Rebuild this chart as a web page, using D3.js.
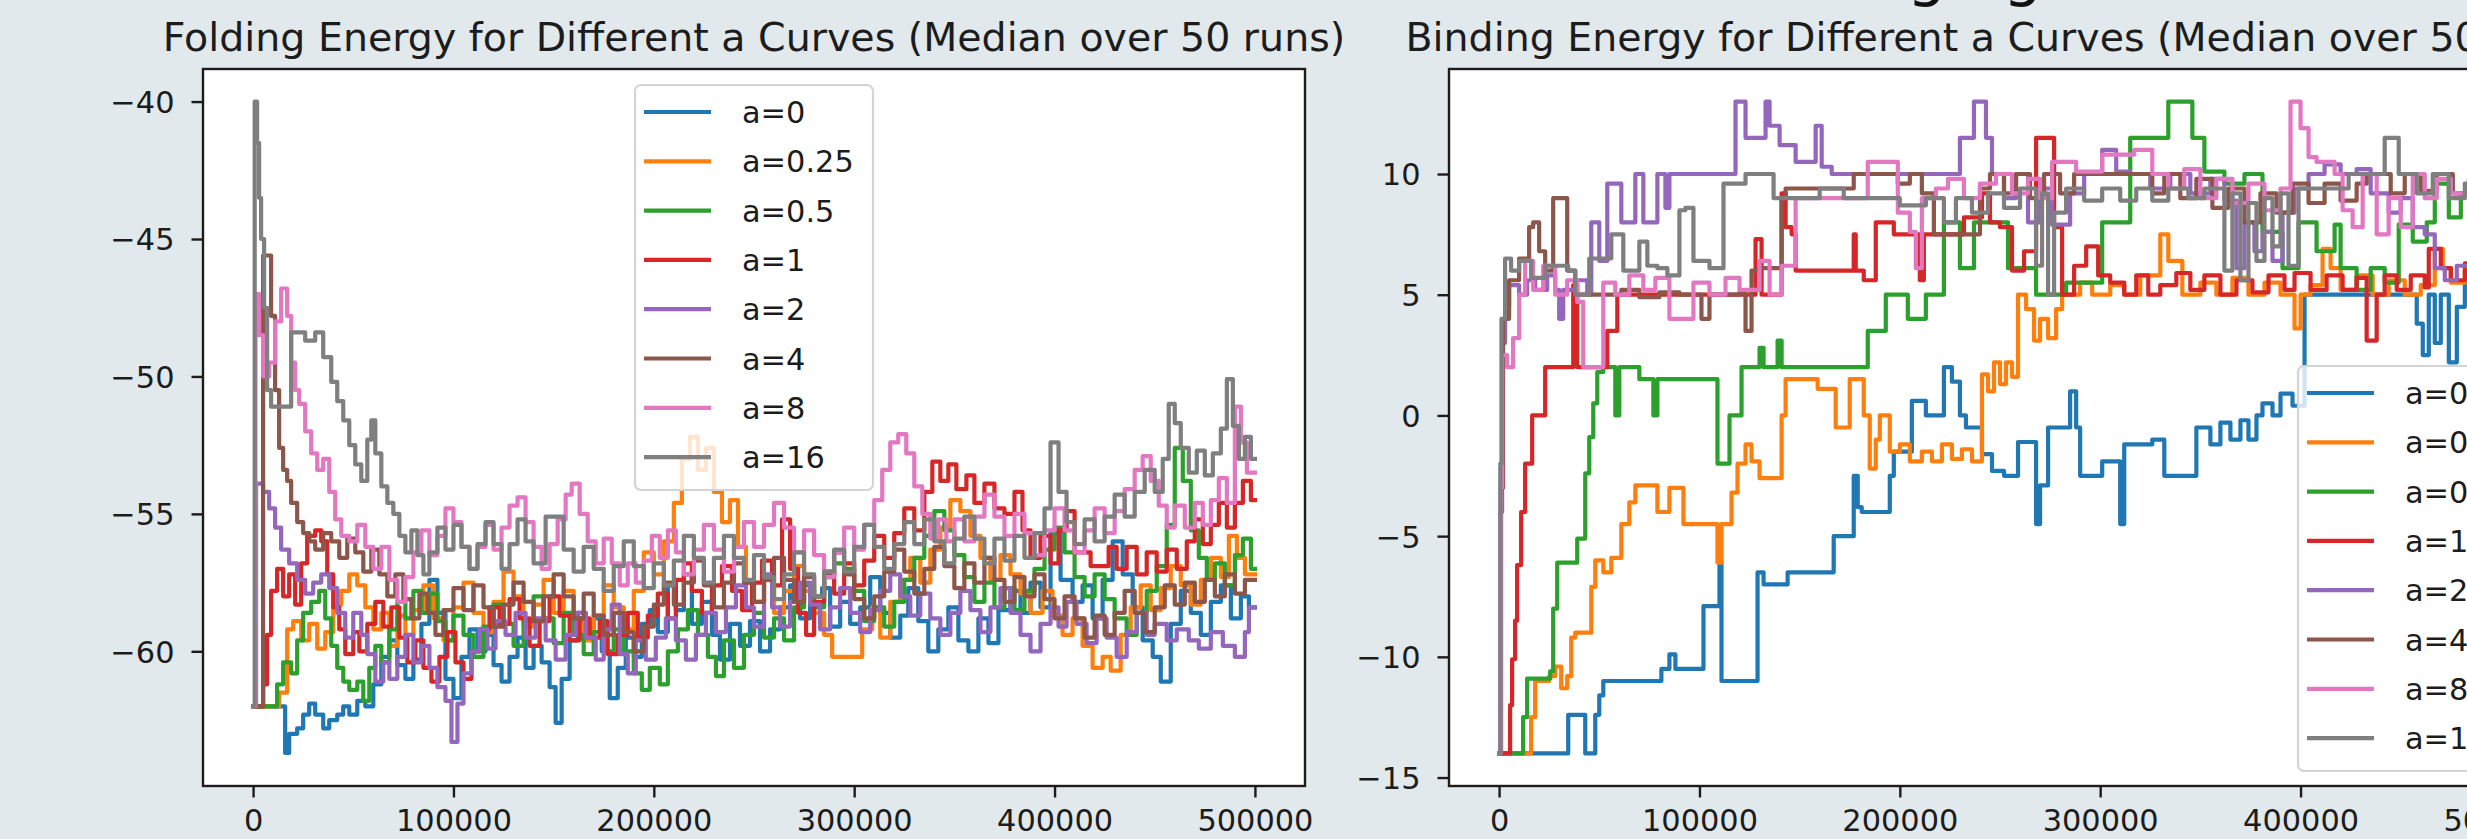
<!DOCTYPE html>
<html><head><meta charset="utf-8">
<script src="https://cdn.jsdelivr.net/npm/d3@7"></script>
<style>
html,body{margin:0;padding:0;background:#e1e9ed;overflow:hidden;}
svg{display:block;}
</style></head><body>
<svg id="c" width="2467" height="839"></svg>
<script>
// ---------------- DATA ----------------
const seriesLabels = ["a=0","a=0.25","a=0.5","a=1","a=2","a=4","a=8","a=16"];
const seriesColors = ["#1f77b4","#ff7f0e","#2ca02c","#d62728","#9467bd","#8c564b","#e377c2","#7f7f7f"];
const xTicks = [0,100000,200000,300000,400000,500000];
const foldYTicks = [-60,-55,-50,-45,-40];
const bindYTicks = [-15,-10,-5,0,5,10];
const foldTitle = "Folding Energy for Different a Curves (Median over 50 runs)";
const bindTitle = "Binding Energy for Different a Curves (Median over 50 runs)";
const slideHeading = "ging";
// x values are in thousands of steps, y values are energies

const fold_a0 = [[0,-62],[16,-63.7],[18,-63.0],[22,-62.8],[25,-62.3],[28,-61.9],[31,-62.3],[35,-62.8],[38,-62.5],[42,-62.3],[45,-62.0],[48,-62.3],[52,-61.8],[56,-62.0],[60,-61.2],[64,-60.2],[68,-59.6],[72,-60.5],[76,-61.0],[80,-60.3],[84,-59.0],[88,-57.4],[92,-58.6],[96,-61.0],[100,-61.7],[104,-60.2],[108,-59.2],[112,-60.0],[116,-59.4],[120,-60.5],[124,-61.1],[128,-60.2],[132,-59.5],[136,-60.6],[140,-59.8],[144,-60.4],[148,-61.3],[151,-62.6],[154,-61.0],[158,-59.6],[162,-58.6],[166,-59.4],[170,-58.8],[174,-60.0],[178,-61.7],[182,-60.6],[186,-59.5],[190,-60.2],[194,-59.0],[198,-58.5],[202,-59.3],[207,-57.6],[211,-58.5],[215,-57.2],[219,-59.0],[224,-58.2],[229,-59.4],[233,-60.3],[238,-59.0],[243,-59.8],[248,-58.9],[253,-60.0],[258,-59.2],[263,-58.4],[268,-57.6],[273,-58.8],[278,-58.0],[284,-57.7],[288,-59.1],[293,-58.2],[298,-59.0],[303,-58.4],[308,-57.3],[313,-58.6],[318,-59.5],[323,-58.7],[327,-57.7],[332,-58.9],[337,-60.0],[342,-59.2],[347,-58.4],[352,-59.6],[357,-60.0],[362,-58.8],[367,-59.7],[372,-58.5],[378,-57.8],[383,-58.6],[388,-57.5],[393,-58.4],[398,-55.7],[403,-57.4],[409,-58.2],[414,-57.6],[419,-58.8],[424,-57.4],[429,-56.0],[434,-57.2],[439,-58.4],[444,-59.6],[449,-60.2],[453,-61.1],[458,-59.0],[463,-57.8],[468,-58.6],[473,-59.4],[478,-58.2],[483,-57.6],[488,-58.8],[493,-58.0],[497,-58.4],[500,-58.4]];
const fold_a025 = [[0,-62],[13,-61.5],[17,-59.2],[20,-58.9],[24,-59.6],[28,-59.0],[32,-59.9],[36,-59.3],[40,-58.3],[44,-57.8],[48,-57.2],[52,-57.6],[56,-58.4],[60,-59.2],[64,-58.6],[68,-59.8],[72,-58.7],[76,-59.4],[80,-58.5],[85,-57.6],[90,-58.8],[95,-59.6],[100,-58.4],[105,-57.5],[110,-58.6],[115,-59.3],[120,-58.2],[125,-57.1],[130,-58.0],[135,-59.1],[140,-58.3],[145,-57.4],[150,-58.6],[155,-57.8],[160,-58.9],[165,-59.6],[170,-58.7],[175,-57.6],[180,-58.4],[185,-59.2],[190,-57.8],[195,-56.4],[200,-57.2],[205,-56.0],[210,-54.6],[214,-53.0],[218,-52.2],[222,-53.4],[226,-52.6],[230,-54.2],[234,-55.3],[238,-54.5],[242,-56.2],[246,-57.5],[250,-58.2],[255,-57.4],[260,-58.6],[265,-57.8],[270,-56.9],[275,-57.8],[280,-58.6],[285,-59.4],[289,-60.2],[304,-59.2],[309,-58.4],[313,-59.5],[318,-58.2],[323,-57.4],[328,-56.6],[333,-57.5],[338,-56.3],[343,-55.5],[348,-54.5],[353,-54.9],[358,-55.8],[363,-56.6],[368,-57.4],[373,-56.5],[378,-57.2],[383,-57.9],[388,-58.6],[394,-57.8],[399,-58.7],[404,-59.4],[409,-58.8],[414,-59.8],[419,-60.6],[424,-60.2],[428,-60.7],[433,-59.4],[438,-58.4],[443,-57.6],[448,-58.5],[453,-57.7],[458,-56.9],[463,-57.6],[468,-58.3],[473,-57.4],[478,-56.6],[483,-57.3],[487,-55.8],[491,-56.6],[495,-57.2],[500,-57.2]];
const fold_a05 = [[0,-62],[12,-61.2],[15,-60.4],[19,-60.8],[22,-59.6],[25,-58.6],[29,-58.2],[33,-57.8],[36,-58.8],[39,-59.8],[42,-60.6],[45,-61.1],[48,-61.4],[52,-61.1],[55,-61.8],[58,-60.6],[61,-59.8],[64,-60.4],[68,-59.2],[72,-58.2],[76,-58.8],[80,-57.8],[84,-58.6],[88,-57.9],[92,-58.9],[96,-59.6],[100,-58.7],[105,-59.4],[110,-60.2],[115,-59.1],[120,-58.3],[125,-59.0],[130,-59.8],[135,-58.9],[140,-58.0],[145,-58.8],[150,-59.7],[155,-58.6],[160,-59.4],[165,-60.1],[170,-59.3],[175,-60.0],[180,-59.2],[185,-60.0],[190,-60.8],[194,-61.4],[198,-60.6],[203,-61.2],[207,-60.0],[212,-59.2],[217,-58.5],[222,-59.4],[227,-60.2],[231,-60.9],[235,-59.6],[240,-60.6],[245,-59.4],[250,-58.6],[255,-59.5],[260,-58.8],[265,-59.6],[270,-58.4],[275,-57.6],[280,-58.4],[285,-57.3],[290,-56.8],[295,-57.0],[300,-57.8],[305,-58.9],[310,-58.4],[315,-59.1],[320,-58.2],[325,-57.4],[330,-56.6],[335,-55.8],[340,-54.9],[345,-55.6],[350,-56.5],[355,-57.3],[360,-58.2],[365,-57.5],[370,-58.4],[375,-57.7],[380,-58.5],[385,-57.8],[390,-57.0],[395,-56.3],[400,-55.5],[405,-56.4],[410,-57.3],[415,-58.0],[420,-57.2],[425,-58.1],[430,-58.8],[436,-59.4],[441,-58.6],[446,-57.8],[451,-56.9],[456,-55.4],[460,-52.6],[464,-53.8],[468,-55.6],[472,-56.6],[476,-57.4],[480,-56.8],[485,-57.6],[490,-56.5],[494,-55.9],[498,-57.0],[500,-57.0]];
const fold_a1 = [[0,-62],[5,-61.2],[7,-59.4],[9,-57.8],[12,-57.0],[15,-58.0],[18,-57.2],[21,-58.3],[24,-56.8],[27,-55.8],[31,-55.6],[34,-56.0],[37,-57.2],[40,-58.4],[43,-59.2],[46,-60.1],[50,-59.3],[53,-60.0],[57,-59.0],[61,-58.2],[65,-59.1],[69,-58.4],[73,-59.5],[77,-60.4],[81,-59.6],[85,-60.6],[89,-61.1],[93,-60.2],[97,-59.3],[101,-60.4],[105,-61.0],[109,-60.0],[113,-59.2],[118,-58.4],[123,-59.0],[128,-58.1],[133,-58.8],[138,-59.8],[143,-58.9],[148,-58.0],[153,-58.7],[158,-59.6],[163,-58.8],[168,-59.5],[173,-58.9],[177,-60.1],[182,-59.4],[187,-58.6],[192,-59.5],[197,-58.7],[202,-57.9],[207,-58.8],[211,-57.4],[215,-56.8],[219,-57.8],[224,-58.6],[229,-57.6],[234,-56.9],[239,-57.8],[244,-58.5],[249,-57.5],[254,-56.7],[259,-57.6],[264,-55.2],[268,-57.0],[272,-58.6],[276,-59.4],[280,-58.2],[285,-57.1],[290,-57.9],[295,-56.8],[300,-57.6],[305,-56.7],[310,-55.8],[315,-56.6],[320,-55.7],[325,-54.8],[330,-55.6],[335,-54.2],[339,-53.1],[343,-53.8],[347,-53.2],[351,-54.1],[356,-53.6],[360,-54.6],[365,-53.9],[370,-54.8],[375,-55.0],[380,-54.2],[384,-55.6],[388,-56.6],[393,-55.8],[398,-56.8],[402,-55.6],[406,-54.9],[410,-56.4],[418,-56.9],[427,-56.2],[431,-57.0],[436,-56.2],[441,-57.2],[446,-56.4],[451,-57.1],[456,-56.3],[461,-57.0],[466,-56.0],[470,-55.2],[474,-56.1],[478,-55.4],[482,-54.6],[486,-55.5],[490,-54.6],[494,-53.8],[498,-54.5],[500,-54.5]];
const fold_a2 = [[0,-62],[1.5,-53.9],[5,-54.2],[8,-54.8],[11,-55.5],[14,-56.3],[18,-56.8],[22,-57.4],[26,-57.9],[30,-57.5],[34,-57.2],[38,-57.7],[42,-58.6],[46,-59.5],[50,-58.6],[54,-59.4],[57,-60.1],[61,-61.1],[65,-60.4],[68,-61.0],[72,-60.2],[76,-59.4],[80,-60.4],[84,-59.8],[88,-60.6],[92,-61.3],[96,-61.8],[99,-63.3],[102,-61.9],[105,-60.8],[109,-60.0],[113,-59.2],[117,-59.9],[121,-58.9],[126,-59.4],[131,-58.6],[136,-59.5],[141,-58.8],[146,-59.6],[151,-60.3],[156,-59.4],[161,-58.6],[166,-59.5],[171,-60.3],[175,-59.2],[179,-58.3],[183,-60.1],[187,-60.8],[191,-59.6],[196,-60.3],[201,-59.5],[206,-58.8],[211,-59.6],[216,-60.3],[221,-59.4],[226,-58.6],[231,-59.3],[236,-58.4],[241,-57.6],[246,-58.4],[250,-59.1],[255,-57.2],[259,-58.4],[263,-59.1],[268,-58.2],[273,-57.5],[278,-58.3],[283,-59.2],[288,-58.4],[293,-57.7],[298,-58.6],[303,-59.3],[308,-58.5],[313,-57.8],[318,-57.2],[323,-58.0],[328,-58.7],[333,-57.9],[338,-58.8],[343,-59.4],[348,-58.6],[353,-57.8],[358,-58.5],[363,-59.3],[368,-58.4],[373,-57.7],[378,-58.6],[383,-59.4],[388,-60.0],[393,-59.0],[398,-58.4],[402,-59.1],[406,-58.2],[411,-59.0],[416,-59.7],[421,-58.8],[426,-59.5],[431,-60.2],[436,-59.3],[441,-58.6],[446,-59.4],[450,-59.0],[456,-59.6],[461,-59.2],[467,-59.6],[472,-59.9],[478,-59.3],[484,-59.8],[490,-60.2],[495,-59.3],[497,-58.4],[500,-58.4]];
const fold_a4 = [[0,-62],[5,-45.6],[9,-47.8],[11,-50.5],[13,-52.6],[15,-53.4],[17,-53.8],[19,-54.6],[22,-55.3],[25,-55.7],[28,-56.0],[31,-56.3],[35,-55.7],[39,-56.0],[43,-56.6],[47,-55.9],[51,-56.4],[55,-57.1],[59,-56.3],[63,-57.2],[67,-58.0],[71,-57.2],[75,-58.1],[79,-58.8],[83,-57.9],[87,-58.6],[91,-59.4],[95,-58.5],[100,-57.7],[105,-58.5],[110,-57.6],[115,-58.4],[120,-59.1],[125,-58.3],[130,-57.5],[135,-58.2],[140,-58.9],[145,-58.0],[150,-57.2],[155,-58.0],[160,-58.8],[165,-57.9],[170,-58.7],[175,-59.4],[180,-58.6],[185,-59.3],[190,-60.0],[195,-59.1],[200,-58.3],[205,-57.5],[210,-58.3],[215,-57.5],[220,-56.7],[225,-57.6],[230,-58.4],[235,-57.5],[240,-56.8],[245,-57.5],[250,-58.2],[255,-57.4],[260,-56.6],[265,-57.4],[270,-58.2],[275,-57.3],[280,-58.0],[285,-57.2],[290,-56.4],[295,-57.2],[300,-58.1],[305,-58.8],[310,-58.0],[315,-57.1],[320,-56.3],[325,-57.1],[330,-57.9],[335,-57.0],[340,-56.2],[345,-56.9],[350,-57.7],[355,-56.8],[360,-57.5],[365,-56.6],[370,-57.4],[375,-58.2],[380,-57.3],[385,-58.0],[390,-57.2],[395,-58.1],[400,-58.8],[405,-58.0],[410,-58.8],[415,-59.5],[420,-58.7],[425,-59.4],[430,-58.6],[435,-57.8],[440,-58.6],[445,-59.3],[450,-58.4],[455,-57.6],[460,-58.3],[465,-57.5],[470,-58.2],[475,-57.4],[480,-58.0],[485,-57.2],[490,-57.9],[495,-57.4],[500,-57.4]];
const fold_a8 = [[0,-62],[1.2,-47.0],[3,-48.5],[5,-50.0],[8,-49.5],[11,-48.0],[14,-46.8],[17,-47.8],[19,-49.5],[21,-50.5],[23,-51.0],[26,-52.0],[29,-52.8],[32,-53.4],[35,-53.0],[38,-54.2],[41,-55.2],[44,-55.8],[48,-56.0],[52,-55.4],[56,-56.2],[60,-57.0],[64,-56.2],[68,-57.4],[72,-58.2],[76,-57.3],[80,-56.4],[84,-55.6],[88,-56.5],[92,-55.8],[96,-54.8],[100,-55.3],[104,-56.2],[108,-57.0],[112,-56.2],[116,-55.4],[120,-56.3],[124,-55.5],[128,-54.7],[132,-54.4],[136,-55.3],[140,-56.2],[144,-57.0],[148,-56.1],[152,-55.2],[156,-54.3],[159,-53.9],[163,-55.0],[167,-56.0],[171,-56.8],[175,-55.9],[179,-56.8],[183,-57.6],[187,-56.8],[191,-57.5],[195,-56.7],[199,-55.8],[203,-56.6],[207,-55.6],[211,-56.4],[215,-57.2],[220,-56.3],[225,-55.4],[230,-56.3],[235,-57.1],[240,-56.2],[245,-55.3],[250,-56.2],[255,-55.4],[260,-54.6],[265,-55.5],[270,-56.4],[275,-55.6],[280,-56.5],[285,-57.3],[290,-56.4],[295,-55.5],[300,-56.3],[305,-55.4],[310,-54.5],[314,-53.4],[318,-52.4],[322,-52.1],[326,-52.8],[330,-54.0],[334,-55.0],[338,-55.9],[342,-55.2],[346,-56.0],[350,-55.2],[355,-56.0],[360,-55.1],[365,-54.3],[370,-55.1],[375,-55.8],[380,-55.0],[385,-55.7],[390,-56.5],[395,-55.6],[400,-54.8],[405,-55.6],[410,-56.4],[415,-55.6],[420,-54.8],[425,-55.7],[430,-54.9],[435,-54.1],[440,-53.4],[444,-52.9],[448,-53.8],[452,-54.7],[456,-55.5],[460,-54.7],[465,-55.5],[470,-54.6],[474,-55.4],[478,-54.5],[482,-53.7],[486,-54.6],[490,-51.1],[493,-52.4],[496,-53.5],[500,-53.5]];
const fold_a16 = [[0,-62],[0.8,-40],[2,-41.5],[3,-43.5],[4,-45.0],[5.5,-47.5],[7,-50.5],[9,-51.1],[19,-48.4],[26,-48.7],[31,-48.4],[35,-49.3],[39,-50.2],[42,-50.9],[45,-51.6],[48,-52.5],[51,-53.2],[54,-53.8],[57,-52.3],[59,-51.6],[61,-52.8],[64,-54.0],[67,-54.6],[70,-55.0],[73,-55.8],[76,-56.4],[79,-55.6],[82,-56.5],[85,-57.2],[88,-56.4],[92,-55.5],[96,-56.3],[100,-55.4],[104,-56.2],[108,-57.0],[112,-56.1],[116,-55.3],[120,-56.1],[124,-57.0],[128,-56.1],[132,-55.2],[136,-56.0],[140,-56.8],[146,-55.1],[155,-56.3],[160,-57.1],[165,-56.2],[170,-57.0],[175,-57.8],[180,-56.9],[185,-56.0],[190,-56.9],[195,-57.7],[200,-56.8],[205,-57.6],[210,-56.7],[215,-55.8],[220,-56.6],[225,-57.5],[230,-56.6],[235,-55.8],[240,-56.6],[245,-57.4],[250,-56.5],[255,-57.3],[260,-58.1],[265,-57.2],[270,-56.4],[275,-57.2],[280,-58.0],[285,-57.1],[290,-56.3],[295,-57.1],[300,-56.2],[305,-55.4],[310,-56.2],[315,-57.0],[320,-56.1],[325,-55.3],[330,-56.1],[335,-55.2],[340,-56.0],[345,-56.8],[350,-55.9],[355,-55.1],[360,-55.9],[365,-56.8],[370,-55.9],[375,-56.7],[380,-55.8],[385,-56.6],[390,-55.7],[395,-54.8],[398,-52.4],[402,-54.2],[406,-55.3],[410,-56.1],[415,-55.2],[420,-56.0],[425,-55.1],[430,-54.3],[435,-55.1],[440,-54.2],[445,-53.4],[450,-54.2],[454,-53.0],[457,-51.0],[460,-51.7],[463,-52.6],[467,-53.5],[471,-52.7],[475,-53.6],[479,-52.8],[483,-51.9],[486,-50.1],[489,-51.8],[492,-53.0],[495,-52.2],[498,-53.0],[500,-53.0]];

const bind_a0 = [[0,-14],[34.5,-12.4],[43,-14],[48,-12.4],[50,-11.6],[52,-11.0],[81,-10.5],[85,-9.9],[88,-10.5],[102,-7.9],[110,-6.1],[111,-11.0],[129,-6.5],[132,-7.0],[144,-6.5],[167,-5.0],[177,-2.5],[179,-3.8],[181,-4.0],[195,-2.5],[197,-1.5],[206,0.6],[213,0.0],[222,2.0],[226,1.4],[230,0.0],[233,-0.5],[241,-1.6],[246,-2.3],[252,-2.5],[259,-1.1],[268,-4.5],[270,-2.9],[274,-0.5],[285,1.0],[288,-0.5],[290,-2.5],[301,-1.9],[310,-4.5],[312,-1.2],[326,-1.0],[332,-2.5],[348,-0.5],[355,-1.2],[360,-0.3],[365,-1.0],[370,-0.2],[374,-1.0],[378,0.0],[381,0.5],[386,0.0],[390,0.9],[396,0.4],[402,5.0],[458,3.8],[461,2.5],[464,5.0],[467,3.0],[470,5.0],[474,2.2],[478,4.5],[482,5.5],[486,3.5],[490,5.0],[494,4.2],[500,4.2]];
const bind_a025 = [[0,-14],[16,-12.5],[18,-11.0],[25,-10.8],[28,-10.4],[31,-11.3],[34,-10.8],[36,-9.2],[38,-9.0],[46,-7.1],[48,-6.0],[52,-6.5],[56,-5.9],[61,-4.5],[65,-3.6],[68,-2.9],[79,-4.0],[85,-3.0],[92,-4.5],[109,-6.1],[111,-4.5],[116,-3.2],[119,-2.0],[123,-1.2],[126,-1.9],[130,-2.6],[141,0.0],[143,1.5],[159,1.1],[168,-0.5],[175,1.5],[182,0.0],[185,-2.2],[188,-1.0],[190,0.0],[195,-1.5],[200,-1.2],[205,-1.9],[211,-1.5],[216,-1.9],[221,-1.2],[226,-1.8],[231,-1.4],[236,-1.9],[241,1.7],[244,1.0],[247,2.2],[250,1.3],[253,2.2],[256,1.6],[259,5.0],[263,4.4],[267,3.1],[270,4.0],[274,3.2],[278,4.4],[281,5.0],[290,5.5],[296,5.0],[305,5.4],[312,5.0],[320,5.8],[330,7.5],[334,6.4],[341,5.0],[350,5.5],[358,5.0],[366,5.7],[374,5.0],[382,5.5],[390,5.0],[397,3.6],[400,5.0],[405,5.4],[411,6.9],[415,6.1],[420,5.2],[428,5.8],[436,5.0],[444,5.6],[452,5.0],[460,5.4],[467,6.9],[471,6.1],[475,5.5],[482,6.0],[490,5.4],[500,5.4]];
const bind_a05 = [[0,-14],[12,-12.5],[14,-10.9],[25.5,-10.6],[27,-8.0],[29,-6.1],[39,-5.1],[43,-2.4],[45,-0.9],[47,0.5],[49,1.8],[52,2.0],[58,0.0],[60,2.0],[70,1.5],[77,0.0],[79,1.5],[92,1.5],[109,-2.0],[115,0.0],[121,2.0],[130,2.8],[132,2.0],[139,3.1],[141,2.0],[184,3.5],[193,5.0],[204,4.0],[213,5.0],[222,8.0],[230,6.1],[237,8.0],[254,6.1],[268,5.0],[283,5.5],[301,8.0],[315,11.5],[334,13.0],[346,11.5],[352,10.1],[362,9.6],[372,10.0],[381,7.6],[391,6.1],[399,8.0],[408,6.8],[417,7.9],[420,6.1],[428,5.2],[435,6.1],[442,5.5],[449,7.9],[456,7.2],[463,8.0],[467,9.6],[474,8.2],[480,9.2],[500,9.2]];
const bind_a1 = [[0,-14],[5.5,-12.0],[6.5,-10.1],[8,-8.5],[9,-6.2],[11,-4.0],[13,-2.0],[16.5,0.0],[23,2.0],[37,5.4],[39,2.0],[54,3.5],[59,5.0],[128,7.3],[131,5.0],[141,9.2],[143,7.8],[146,7.5],[148,6.0],[177,7.5],[178,6.0],[182,5.6],[188,8.0],[197,7.5],[210,5.6],[212,7.5],[232,8.2],[241,9.2],[245,8.0],[250,7.8],[256,6.0],[262,6.8],[268,11.5],[277,7.8],[281,5.0],[287,6.2],[293,7.0],[299,5.8],[305,5.5],[312,5.0],[318,5.8],[324,5.0],[330,5.4],[338,5.9],[345,5.2],[352,5.8],[360,5.0],[368,5.6],[376,5.1],[384,5.8],[392,5.2],[397,5.9],[405,5.2],[413,5.8],[421,5.2],[428,5.7],[433,3.1],[438,5.0],[442,5.8],[448,5.2],[455,5.8],[462,5.3],[464,6.9],[470,6.1],[475,5.6],[482,6.3],[500,6.3]];
const bind_a2 = [[0,-14],[0.7,-4],[1.5,3.0],[3,4.5],[5,5.4],[10,5.0],[14,5.6],[18,5.2],[24,5.8],[28,5.2],[30,4.0],[32,5.2],[38,5.6],[44,5.0],[46,8.0],[50,6.4],[54,9.6],[61,8.0],[68,10.0],[72,8.0],[79,10.0],[83,8.6],[85,10.0],[118,13.0],[123,11.5],[133,13.0],[135,12.0],[140,11.2],[148,10.5],[158,12.0],[161,10.3],[166,10.0],[230,11.5],[237,13.0],[243,11.5],[246,10.0],[252,9.0],[258,10.0],[264,8.0],[270,9.4],[276,7.9],[285,9.2],[292,10.0],[301,11.0],[308,10.1],[315,10.0],[325,9.4],[335,10.0],[345,9.2],[355,9.8],[362,8.9],[368,6.1],[372,8.0],[377,6.8],[381,7.6],[386,6.4],[391,8.4],[397,9.4],[404,10.0],[412,10.4],[420,10.0],[428,10.2],[435,9.2],[444,8.4],[450,9.0],[456,7.8],[462,7.5],[467,6.1],[472,5.6],[478,6.2],[500,6.2]];
const bind_a4 = [[0,-14],[1,-3],[2,4.0],[5,5.6],[10,6.5],[15,7.8],[17,8.0],[20,6.8],[23,6.0],[27,9.0],[34,6.0],[38,5.0],[61,5.2],[70,4.9],[80,5.1],[90,5.0],[101,4.0],[105,5.0],[120,5.1],[123,3.5],[126,6.0],[130,6.1],[141,9.0],[143,9.4],[177,10.0],[199,9.6],[205,10.0],[211,9.2],[217,7.5],[240,9.4],[245,10.0],[252,9.2],[258,10.0],[265,9.0],[272,10.0],[280,9.2],[287,10.0],[326,9.2],[332,10.0],[340,9.0],[348,9.8],[356,8.6],[364,9.4],[372,8.0],[380,9.2],[388,8.4],[396,9.6],[404,8.8],[412,9.6],[420,8.9],[428,9.6],[433,10.0],[445,9.2],[452,10.0],[460,9.3],[468,10.0],[476,9.2],[484,9.8],[500,9.8]];
const bind_a8 = [[0,-14],[0.8,-3],[1.5,2.5],[4,2.0],[7,3.2],[10,5.0],[13,6.4],[17,5.2],[22,6.2],[28,5.0],[34,5.6],[39,4.7],[42,2.0],[52,5.5],[58,5.0],[65,5.8],[72,5.2],[78,5.7],[85,4.0],[97,5.5],[105,5.0],[113,5.7],[120,5.2],[130,6.4],[135,5.0],[141,6.2],[148,9.0],[184,10.5],[199,8.4],[205,7.6],[208,6.1],[211,9.0],[218,9.4],[224,9.8],[232,9.0],[240,9.6],[248,10.0],[256,9.2],[264,9.8],[270,9.0],[276,10.5],[288,10.1],[301,10.8],[317,11.0],[326,10.0],[334,9.4],[342,10.2],[350,9.0],[358,9.8],[366,8.8],[374,9.6],[382,8.5],[390,9.4],[395,13.0],[400,11.9],[404,10.7],[408,10.5],[417,10.0],[421,8.5],[426,7.8],[431,10.0],[438,7.5],[444,9.0],[450,7.8],[456,10.0],[462,9.0],[468,9.8],[475,9.2],[500,9.2]];
const bind_a16 = [[0,-14],[0.6,-2],[1.2,4.0],[3,6.5],[6,6.0],[10,6.4],[16,5.7],[23,6.2],[34.5,6.0],[38,5.0],[45,6.5],[56,7.5],[62,6.0],[70,7.2],[74,6.2],[79,6.1],[84,5.8],[90,8.5],[93,8.6],[97,6.4],[105,6.1],[112,9.6],[123,10.0],[137,9.0],[160,9.4],[172,9.0],[200,8.7],[213,9.0],[222,8.0],[228,9.0],[236,8.4],[244,9.2],[252,8.6],[260,9.4],[268,6.2],[271,9.2],[274,5.0],[277,8.4],[283,9.4],[292,8.9],[301,9.4],[310,8.9],[318,9.4],[326,8.9],[334,9.4],[344,9.0],[352,9.4],[362,6.0],[366,9.2],[370,5.6],[374,8.8],[378,6.4],[382,9.0],[386,7.0],[390,9.2],[394,6.2],[399,9.4],[424,10.0],[442,11.5],[449,10.0],[458,9.2],[466,10.0],[474,9.0],[482,9.6],[500,9.6]];

const foldSeries = [fold_a0, fold_a025, fold_a05, fold_a1, fold_a2, fold_a4, fold_a8, fold_a16];
const bindSeries = [bind_a0, bind_a025, bind_a05, bind_a1, bind_a2, bind_a4, bind_a8, bind_a16];

// ---------------- DRAWING ----------------
const svg = d3.select("#c");
const FONT = "'DejaVu Sans', sans-serif";
const INK = "#1c1c1c";
const PLOT_W = 1102, TOP = 69, BOTTOM = 786;
const TICK_FS = 30.4, TITLE_FS = 39.5;

// partially visible slide heading at the very top
svg.append("text").text(slideHeading)
  .attr("x", 1907).attr("y", -6)
  .attr("font-family", FONT).attr("font-size", 62).attr("fill", "#111");

function panel(o) {
  const x = d3.scaleLinear().domain([-25000, 525000]).range([o.left, o.left + PLOT_W]);
  const y = d3.scaleLinear().domain(o.yDomain).range([BOTTOM, TOP]);
  const g = svg.append("g");

  g.append("rect").attr("x", o.left).attr("y", TOP).attr("width", PLOT_W).attr("height", BOTTOM - TOP)
    .attr("fill", "#ffffff");

  const clipId = "clip-" + o.id;
  svg.append("clipPath").attr("id", clipId).append("rect")
    .attr("x", o.left).attr("y", TOP).attr("width", PLOT_W).attr("height", BOTTOM - TOP);

  const line = d3.line().x(d => x(d[0] * 1000)).y(d => y(d[1])).curve(d3.curveStepAfter);
  const lg = g.append("g").attr("clip-path", `url(#${clipId})`);
  o.series.forEach((s, i) => {
    lg.append("path").attr("d", line(s)).attr("fill", "none")
      .attr("stroke", seriesColors[i]).attr("stroke-width", 4.2)
      .attr("stroke-linejoin", "round").attr("stroke-linecap", "square");
  });

  // axes
  const xa = g.append("g").attr("transform", `translate(0,${BOTTOM})`)
    .call(d3.axisBottom(x).tickValues(xTicks).tickFormat(d3.format("d")).tickSize(11.5).tickPadding(12));
  const ya = g.append("g").attr("transform", `translate(${o.left},0)`)
    .call(d3.axisLeft(y).tickValues(o.yTicks).tickFormat(d3.format("d")).tickSize(11.5).tickPadding(17));
  [xa, ya].forEach(a => {
    a.select(".domain").remove();
    a.selectAll(".tick line").attr("stroke", INK).attr("stroke-width", 2.4);
    a.selectAll(".tick text").attr("font-family", FONT).attr("font-size", TICK_FS).attr("fill", INK);
  });
  ya.selectAll(".tick text").attr("dy", "0.36em");

  // frame
  g.append("rect").attr("x", o.left).attr("y", TOP).attr("width", PLOT_W).attr("height", BOTTOM - TOP)
    .attr("fill", "none").attr("stroke", INK).attr("stroke-width", 2.4);

  // title
  g.append("text").text(o.title).attr("x", o.left + PLOT_W / 2).attr("y", 51)
    .attr("text-anchor", "middle").attr("font-family", FONT).attr("font-size", TITLE_FS).attr("fill", INK);

  // legend
  const LW = 238, LH = 405, PITCH = 49.3;
  const lx = o.legend === "upper center" ? o.left + PLOT_W / 2 - LW / 2 : o.left + PLOT_W - 15 - LW;
  const ly = o.legend === "upper center" ? TOP + 16 : BOTTOM - 15 - LH;
  const leg = g.append("g");
  leg.append("rect").attr("x", lx).attr("y", ly).attr("width", LW).attr("height", LH)
    .attr("rx", 6).attr("fill", "#ffffff").attr("fill-opacity", 0.8)
    .attr("stroke", "#d4d4d4").attr("stroke-width", 2.2);
  seriesLabels.forEach((lab, i) => {
    const ry = ly + 27 + i * PITCH;
    leg.append("line").attr("x1", lx + 9).attr("x2", lx + 76).attr("y1", ry).attr("y2", ry)
      .attr("stroke", seriesColors[i]).attr("stroke-width", 4.2);
    leg.append("text").text(lab).attr("x", lx + 107).attr("y", ry + 11)
      .attr("font-family", FONT).attr("font-size", TICK_FS).attr("fill", INK);
  });
}

panel({id: "fold", left: 203, yDomain: [-64.9, -38.815], yTicks: foldYTicks, series: foldSeries,
       title: foldTitle, legend: "upper center"});
panel({id: "bind", left: 1449, yDomain: [-15.35, 14.35], yTicks: bindYTicks, series: bindSeries,
       title: bindTitle, legend: "lower right"});
</script>
</body></html>
